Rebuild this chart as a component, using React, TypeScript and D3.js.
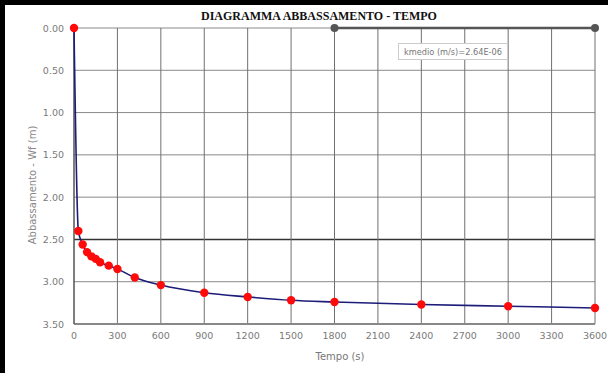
import React from "react";
import * as d3 from "d3";

const title = "DIAGRAMMA ABBASSAMENTO - TEMPO";
const xLabel = "Tempo (s)";
const yLabel = "Abbassamento - Wf (m)";
const legendText = "kmedio (m/s)=2.64E-06";

const times = [0, 30, 60, 90, 120, 150, 180, 240, 300, 420, 600, 900, 1200, 1500, 1800, 2400, 3000, 3600];
const drawdown = [0.0, 2.4, 2.56, 2.65, 2.7, 2.73, 2.77, 2.81, 2.85, 2.95, 3.04, 3.13, 3.18, 3.22, 3.24, 3.27, 3.29, 3.31];

const kLineTimes = [1800, 3600];
const kLineValues = [0, 0];

const xTicks = [0, 300, 600, 900, 1200, 1500, 1800, 2100, 2400, 2700, 3000, 3300, 3600];
const yTicks = [0, 0.5, 1.0, 1.5, 2.0, 2.5, 3.0, 3.5];
const thresholdValue = 2.5;

const W = 608;
const H = 373;
const left = 74;
const right = 595;
const top = 28;
const bottom = 324;

export default function App() {
  const x = d3.scaleLinear().domain([0, 3600]).range([left, right]);
  const y = d3.scaleLinear().domain([0, 3.5]).range([top, bottom]);
  const pts = times.map((t, i) => [t, drawdown[i]] as [number, number]);
  const line = d3
    .line<[number, number]>()
    .x((d) => x(d[0]))
    .y((d) => y(d[1]))
    .curve(d3.curveMonotoneX);
  const kPts = kLineTimes.map((t, i) => [t, kLineValues[i]] as [number, number]);
  const kLine = d3
    .line<[number, number]>()
    .x((d) => x(d[0]))
    .y((d) => y(d[1]));
  const font = "'DejaVu Sans', sans-serif";
  return (
    <svg
      width={W}
      height={H}
      style={{ position: "absolute", left: 0, top: 0, background: "#fff" }}
    >
      <rect x={0} y={0} width={W} height={H} fill="#fff" />
      {/* black frame top & left */}
      <rect x={0} y={0} width={W} height={5} fill="#000" />
      <rect x={0} y={0} width={5} height={H} fill="#000" />

      {/* grid */}
      {yTicks.map((v) => (
        <line
          key={"hy" + v}
          x1={left}
          x2={right}
          y1={y(v)}
          y2={y(v)}
          stroke={v === thresholdValue ? "#333" : "#8a8a8a"}
          strokeWidth={v === thresholdValue ? 1.6 : 1}
        />
      ))}
      {xTicks.map((t) => (
        <line
          key={"gx" + t}
          x1={x(t)}
          x2={x(t)}
          y1={top}
          y2={bottom}
          stroke="#707070"
          strokeWidth={1}
        />
      ))}
      {/* axes */}
      <line x1={left} x2={right} y1={bottom} y2={bottom} stroke="#888" strokeWidth={2} />
      <line x1={left} x2={left} y1={top} y2={bottom} stroke="#444" strokeWidth={1} />

      {/* tick labels */}
      {yTicks.map((v) => (
        <text
          key={"ty" + v}
          x={64}
          y={y(v) + 3.5}
          textAnchor="end"
          fontFamily={font}
          fontSize={9.5}
          fill="#7a7a7a"
        >
          {v.toFixed(2)}
        </text>
      ))}
      {xTicks.map((t) => (
        <text
          key={"tx" + t}
          x={x(t)}
          y={339}
          textAnchor="middle"
          fontFamily={font}
          fontSize={9.5}
          fill="#7a7a7a"
        >
          {t}
        </text>
      ))}

      {/* axis titles */}
      <text
        x={340}
        y={360}
        textAnchor="middle"
        fontFamily={font}
        fontSize={10}
        fill="#777"
      >
        {xLabel}
      </text>
      <text
        transform={`translate(36,${185}) rotate(-90)`}
        textAnchor="middle"
        fontFamily={font}
        fontSize={10}
        fill="#888"
      >
        {yLabel}
      </text>

      {/* title */}
      <text
        x={319}
        y={20}
        textAnchor="middle"
        fontFamily="'Liberation Serif', 'Times New Roman', serif"
        fontWeight="bold"
        fontSize={12}
        fill="#111"
      >
        {title}
      </text>

      {/* kmedio line */}
      <path d={kLine(kPts) || ""} fill="none" stroke="#555" strokeWidth={2.5} />
      {kPts.map((d, i) => (
        <circle key={"k" + i} cx={x(d[0])} cy={y(d[1])} r={4} fill="#555" />
      ))}

      {/* legend box */}
      <rect x={398.5} y={43.5} width={109} height={16} fill="#fff" stroke="#ccc" />
      <text
        x={404}
        y={55}
        textLength={98}
        lengthAdjust="spacingAndGlyphs"
        fontFamily={font}
        fontSize={8.5}
        fill="#777"
      >
        {legendText}
      </text>

      {/* data line */}
      <path d={line(pts) || ""} fill="none" stroke="#1c1c7a" strokeWidth={1.6} />
      {pts.map((d, i) => (
        <circle key={"p" + i} cx={x(d[0])} cy={y(d[1])} r={4.2} fill="#ff0a0a" />
      ))}
    </svg>
  );
}
